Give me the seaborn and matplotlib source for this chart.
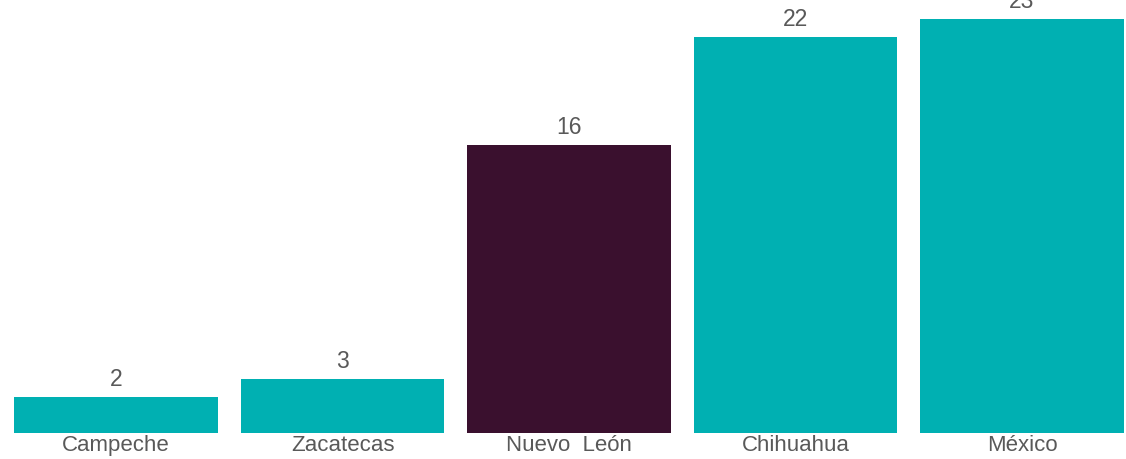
import numpy as np
import pandas as pd
import matplotlib
matplotlib.use("Agg")
import matplotlib.pyplot as plt
import seaborn as sns

# data
estados = ["Campeche", "Zacatecas", "Nuevo  León", "Chihuahua", "México"]
valores = [2, 3, 16, 22, 23]
destacado = "Nuevo  León"

teal = "#00B0B2"
morado = "#3A102E"
gris = "#595959"

sns.set_theme(style="white")
plt.rcParams['font.family'] = ['Liberation Sans', 'DejaVu Sans']

df = pd.DataFrame({"estado": estados, "valor": valores})
df["grupo"] = np.where(df["estado"] == destacado, "b", "a")

fig = plt.figure(figsize=(11.26, 4.6), dpi=100)
ax = fig.add_axes([0, 26 / 460, 1, 434 / 460])

sns.barplot(data=df, x="estado", y="valor", hue="grupo",
            palette={"a": teal, "b": morado}, dodge=False,
            width=0.9, legend=False, ax=ax, saturation=1,
            edgecolor="none", linewidth=0)

for i, v in enumerate(valores):
    ax.text(i, v + 0.4, str(v), ha="center", va="bottom",
            fontsize=16.5, color=gris)

ax.set_xlim(-116 / 226.5, (1126 - 116) / 226.5)
ax.set_ylim(0, 434 / 18)
ax.set_xlabel("")
ax.set_ylabel("")
ax.set_yticks([])
ax.tick_params(axis="x", length=0, pad=1, labelsize=16, labelcolor=gris)
for s in ax.spines.values():
    s.set_visible(False)

fig.savefig("out.png", dpi=100)
